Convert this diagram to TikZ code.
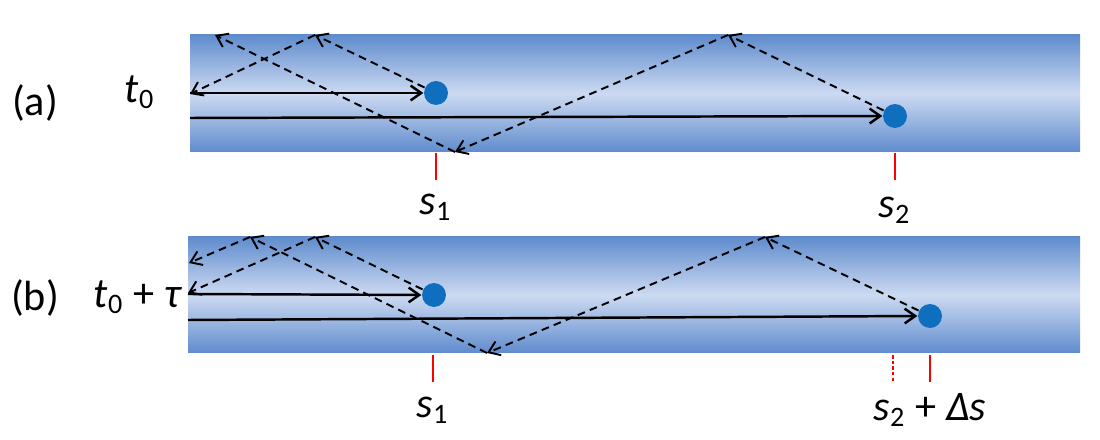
\documentclass[tikz,border=0pt]{standalone}
\usepackage{fontspec}
\setmainfont{Carlito}
\usetikzlibrary{arrows.meta}
\definecolor{edgeblue}{RGB}{95,140,205}
\definecolor{coreblue}{RGB}{205,218,242}
\definecolor{dotblue}{RGB}{15,110,190}
\begin{document}
\begin{tikzpicture}[x=0.01cm,y=-0.01cm,>={Straight Barb[length=3pt,width=4.2pt]},
    guide/.style={top color=edgeblue,bottom color=edgeblue,middle color=coreblue,draw=none},
    wave/.style={dash pattern=on 2.2pt off 1.5pt,line width=0.55pt,->},
    ray/.style={line width=0.7pt,->},
    scat/.style={circle,fill=dotblue,minimum size=6.8pt,inner sep=0pt},
    tick/.style={red,line width=0.45pt},
    lab/.style={font=\large}]
    \useasboundingbox (0,0) rectangle (1100,440);

    % panel (a)
    \shade[guide] (190,35) rectangle (1080,152);
    \node[lab] (la) at (35,103) {(a)};
    \node[lab] (ta) at (140,92) {\textit{t}\textsubscript{0}};
    \coordinate (a0) at (190,93);
    \coordinate (a1) at (190,118);
    \node[scat] (A1) at (436,93) {};
    \node[scat] (A2) at (895,116) {};
    \draw[ray] (a0) -- (A1.west);
    \draw[ray] (a1) -- (A2.west);
    \coordinate (ar1) at (315,35);
    \coordinate (ar2) at (728,35);
    \coordinate (ar3) at (455,152);
    \coordinate (ar4) at (215,35);
    \draw[wave] (A1) -- (ar1);
    \draw[wave] (ar1) -- (190,94);
    \draw[wave] (A2) -- (ar2);
    \draw[wave] (ar2) -- (ar3);
    \draw[wave] (ar3) -- (ar4);
    \coordinate (sa1) at (436,153);
    \coordinate (sa2) at (895,153);
    \draw[tick] (sa1) -- ++(0,27);
    \draw[tick] (sa2) -- ++(0,27);
    \node[lab] (s1a) at (436,207) {\textit{s}\textsubscript{1}};
    \node[lab] (s2a) at (895,210) {\textit{s}\textsubscript{2}};

    % panel (b)
    \shade[guide] (188,237) rectangle (1080,353);
    \node[lab] (lb) at (35,298) {(b)};
    \node[lab] (tb) at (138,297) {\textit{t}\textsubscript{0} + \textit{τ}};
    \coordinate (b0) at (188,294);
    \coordinate (b1) at (188,320);
    \node[scat] (B1) at (434,295) {};
    \node[scat] (B2) at (930,316) {};
    \draw[ray] (b0) -- (B1.west);
    \draw[ray] (b1) -- (B2.west);
    \coordinate (br1) at (315,237);
    \coordinate (br2) at (765,237);
    \coordinate (br3) at (487,353);
    \coordinate (br4) at (250,237);
    \draw[wave] (B1) -- (br1);
    \draw[wave] (br1) -- (188,293);
    \draw[wave] (B2) -- (br2);
    \draw[wave] (br2) -- (br3);
    \draw[wave] (br3) -- (br4);
    \draw[wave] (br4) -- (189,263);
    \coordinate (sb1) at (433,355);
    \coordinate (sb0) at (893,355);
    \coordinate (sb2) at (930,355);
    \draw[tick] (sb1) -- ++(0,27);
    \draw[tick,dash pattern=on 1pt off 0.6pt] (sb0) -- ++(0,27);
    \draw[tick] (sb2) -- ++(0,27);
    \node[lab] (s1b) at (433,410) {\textit{s}\textsubscript{1}};
    \node[lab] (s2b) at (930,410) {\textit{s}\textsubscript{2} + \textit{Δs}};
\end{tikzpicture}
\end{document}
